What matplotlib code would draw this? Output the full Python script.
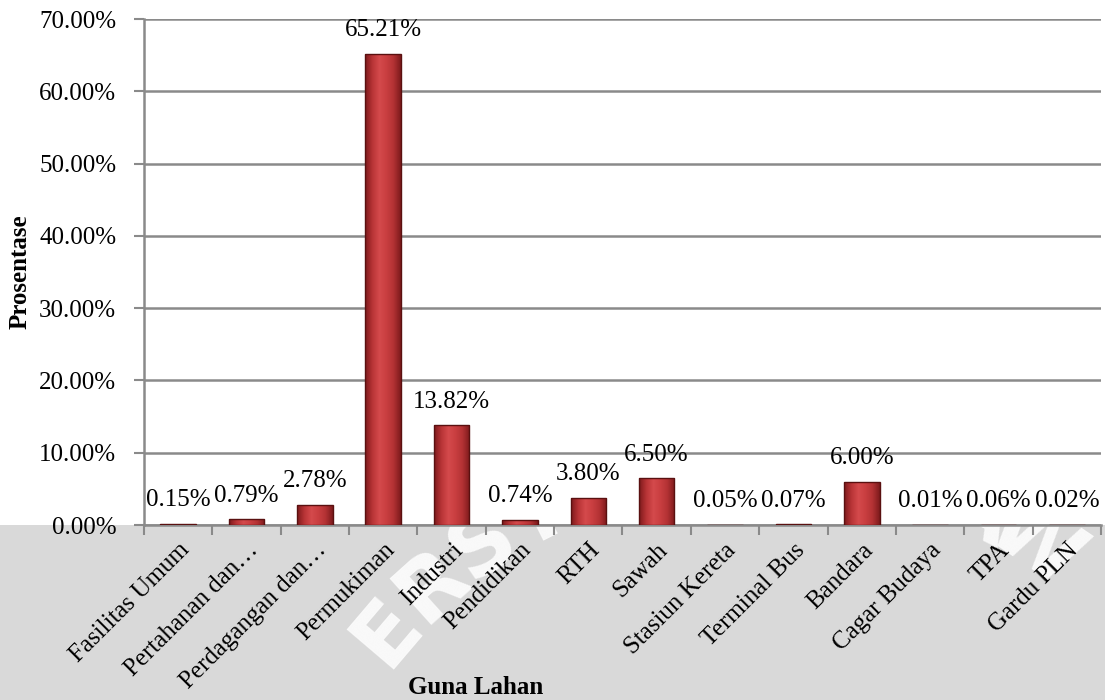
import numpy as np
import matplotlib
matplotlib.use('Agg')
import matplotlib.pyplot as plt
from matplotlib.patches import Rectangle
from matplotlib.colors import LinearSegmentedColormap

plt.rcParams['font.family'] = ['Liberation Serif', 'DejaVu Serif']

guna_lahan = ['Fasilitas Umum', 'Pertahanan dan…', 'Perdagangan dan…', 'Permukiman',
              'Industri', 'Pendidikan', 'RTH', 'Sawah', 'Stasiun Kereta',
              'Terminal Bus', 'Bandara', 'Cagar Budaya', 'TPA', 'Gardu PLN']
prosentase = [0.15, 0.79, 2.78, 65.21, 13.82, 0.74, 3.80, 6.50, 0.05,
              0.07, 6.00, 0.01, 0.06, 0.02]
y_ticks = [0, 10, 20, 30, 40, 50, 60, 70]

W, H = 1105, 700
fig = plt.figure(figsize=(W / 100, H / 100), dpi=100)
fig.patch.set_facecolor('white')

# grey band under the chart with the faint university stamp
fig.patches.append(Rectangle((0, 0), 1, 0.25, transform=fig.transFigure,
                             facecolor='#d9d9d9', edgecolor='none', zorder=0))
stamp = 'UNIVERSITAS BRAWIJAYA'
cx, cy, r = 760, -250, 490
for i, ch in enumerate(stamp):
    ang = np.deg2rad(170 - i * 7.6)
    px = cx + r * np.cos(ang)
    py = cy + r * np.sin(ang)
    # only letters that sit fully inside the figure
    if ch == ' ' or py < 45 or px < 45 or px > W - 45:
        continue
    fig.text(px / W, py / H, ch, color='white', alpha=0.85, fontsize=62,
             fontweight='bold', family='DejaVu Sans', ha='center', va='center',
             rotation=np.rad2deg(ang) - 90, zorder=0.5)

ax = fig.add_axes([144 / W, 1 - 525 / H, (1101 - 144) / W, (525 - 19) / H])
ax.set_facecolor('white')
ax.set_zorder(2)

x = np.arange(len(guna_lahan))
bar_w = 0.52
bars = ax.bar(x, prosentase, width=bar_w, color='#c63b3d', edgecolor='none', zorder=3)

# shading across each bar
shade = LinearSegmentedColormap.from_list(
    'shade', ['#7e1a1c', '#b83436', '#d44a4c', '#c93e40', '#b33234', '#7e1a1c'])
grad = np.linspace(0, 1, 64)[np.newaxis, :]
for b in bars:
    if b.get_height() <= 0:
        continue
    im = ax.imshow(grad, cmap=shade, aspect='auto', zorder=3.2,
                   extent=[b.get_x(), b.get_x() + b.get_width(), 0, b.get_height()])
    im.set_clip_path(b)
ax.bar(x, prosentase, width=bar_w, fill=False, edgecolor='#5a1010',
       linewidth=1.0, zorder=3.5)

# nilai di atas batang
for xi, v in zip(x, prosentase):
    ax.annotate(f'{v:.2f}%', (xi, v), xytext=(0, 9), textcoords='offset points',
                ha='center', va='bottom', fontsize=18, zorder=4)

ax.set_xlim(-0.5, len(guna_lahan) - 0.5)
ax.set_ylim(0, 70)
ax.set_yticks(y_ticks)
ax.set_yticklabels([f'{t:.2f}%' for t in y_ticks], fontsize=18)
ax.grid(axis='y', color='#8a8a8a', linewidth=1.8, zorder=1)
ax.set_axisbelow(True)

# tick kategori di batas antar kelompok
ax.set_xticks(np.arange(len(guna_lahan) + 1) - 0.5)
ax.set_xticklabels([])
ax.set_xticks(x, minor=True)
ax.set_xticklabels(guna_lahan, minor=True, rotation=45, ha='right',
                   rotation_mode='anchor', fontsize=18)
ax.tick_params(axis='x', which='minor', length=0, pad=10)
ax.tick_params(axis='x', which='major', length=7, width=1.5, color='#8a8a8a')
ax.tick_params(axis='y', length=7, width=1.5, color='#8a8a8a', pad=13)

for s in ['top', 'right']:
    ax.spines[s].set_visible(False)
for s in ['left', 'bottom']:
    ax.spines[s].set_color('#8a8a8a')
    ax.spines[s].set_linewidth(1.8)

fig.text(20 / W, 1 - 272 / H, 'Prosentase', rotation=90, fontsize=18,
         fontweight='bold', ha='center', va='center')
fig.text(476 / W, 1 - 688 / H, 'Guna Lahan', fontsize=18,
         fontweight='bold', ha='center', va='center')

fig.savefig('out.png', dpi=100, facecolor=fig.get_facecolor())
